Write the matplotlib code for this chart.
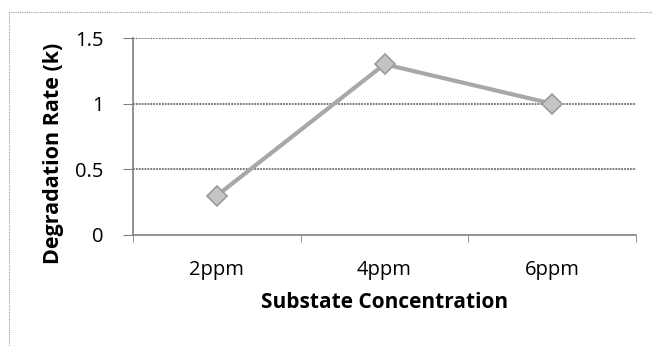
import matplotlib
matplotlib.use("Agg")
import matplotlib.pyplot as plt
from matplotlib.patches import Rectangle

categories = ["2ppm", "4ppm", "6ppm"]
rates = [0.3, 1.3, 1.0]
yticks = [0, 0.5, 1, 1.5]
yticklabels = ["0", "0.5", "1", "1.5"]

plt.rcParams['font.family'] = ['Open Sans', 'DejaVu Sans']

fig = plt.figure(figsize=(6.53, 3.46), dpi=100)
fig.patches.append(Rectangle((9/653, 0.0), 1.2, 1 - 12/346 - 0.0, transform=fig.transFigure,
                             fill=False, edgecolor='#9a9a9a', linestyle=(0, (1, 1)), linewidth=0.8))
ax = fig.add_axes([133/653, 1 - 235/346, (636 - 133)/653, (235 - 38)/346])

x = list(range(len(categories)))
ax.plot(x, rates, color='#a8a8a8', linewidth=3, marker='D', markersize=10,
        markerfacecolor='#c4c4c4', markeredgecolor='#9a9a9a', markeredgewidth=1.2, zorder=3)

ax.set_xlim(-0.5, len(categories) - 0.5)
ax.set_ylim(0, 1.5)
ax.set_yticks(yticks)
ax.set_yticklabels(yticklabels, fontsize=14.5)
ax.set_xticks(x)
ax.set_xticklabels(categories, fontsize=14.5)
ax.tick_params(axis='x', length=0, pad=18)
ax.tick_params(axis='y', length=7, color='#808080', pad=14)
ax.set_xticks([-0.5, 0.5, 1.5, 2.5], minor=True)
ax.tick_params(axis='x', which='minor', length=5, color='#808080', direction='out')

for yv in yticks[1:]:
    ax.axhline(yv, color='#6e6e6e', linewidth=1.3, linestyle=(0, (1, 0.6)), zorder=1)

for s in ['top', 'right']:
    ax.spines[s].set_visible(False)
ax.spines['left'].set_color('#808080')
ax.spines['bottom'].set_color('#808080')
ax.spines['left'].set_linewidth(1.2)
ax.spines['bottom'].set_linewidth(1.2)

fig.text(385/653, 1 - 303/346, "Substate Concentration", fontsize=15, fontweight='bold',
         ha='center', va='center')
fig.text(54/653, 1 - 153/346, "Degradation Rate (k)", fontsize=15.5, fontweight='bold',
         ha='center', va='center', rotation=90)

fig.savefig("out.png", dpi=100)
